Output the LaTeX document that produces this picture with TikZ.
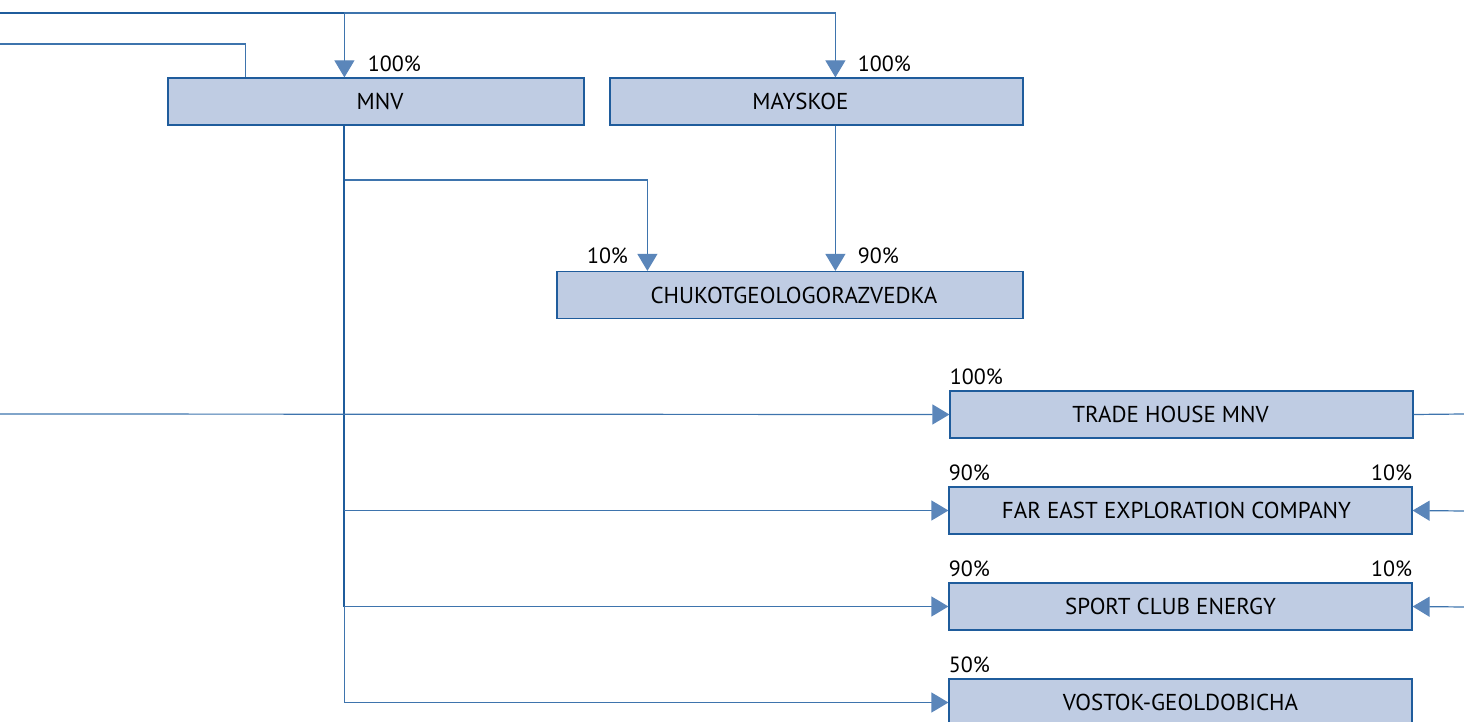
\documentclass[tikz,border=0pt]{standalone}
\usepackage{fontspec}
\setmainfont{PT Sans}
\usetikzlibrary{arrows.meta,calc}
\definecolor{boxfill}{HTML}{BFCCE3}
\definecolor{boxline}{HTML}{1F5C9C}
\definecolor{linkblue}{HTML}{3E74AD}
\definecolor{tipblue}{HTML}{5B86BA}

\begin{document}
\begin{tikzpicture}[x=0.5pt,y=-0.5pt,
    >={Triangle[width=10pt,length=8.5pt,color=tipblue]},
    box/.style={draw=boxline,fill=boxfill,line width=0.6pt,inner sep=0pt,
      minimum height=23.5pt,font=\fontsize{11.5}{13}\selectfont},
    pct/.style={inner sep=0pt,font=\fontsize{11}{13}\selectfont},
    link/.style={draw=linkblue,line width=0.6pt},
    trunk/.style={draw=boxline,line width=1pt}]

  \clip (0,0) rectangle (1464,722);

  % companies
  \node[box,minimum width=208pt] (mnv) at (376,101.5) {\hspace*{4pt}MNV};
  \node[box,minimum width=206.5pt] (may) at (816.5,101.5) {\hspace*{-16pt}MAYSKOE};
  \node[box,minimum width=233pt] (chu) at (790,295) {\hspace*{4pt}CHUKOTGEOLOGORAZVEDKA};
  \node[box,minimum width=231.5pt] (trade) at (1181.5,414.5) {\hspace*{-11pt}TRADE HOUSE MNV};
  \node[box,minimum width=231.5pt] (far) at (1180.5,510.5) {\hspace*{-4pt}FAR EAST EXPLORATION COMPANY};
  \node[box,minimum width=231.5pt] (sport) at (1180.5,606.5) {\hspace*{-10pt}SPORT CLUB ENERGY};
  \node[box,minimum width=231.5pt] (vost) at (1180.5,702.5) {VOSTOK-GEOLDOBICHA};

  % points on the boxes and loose ends
  \path (mnv.north west) ++(177,0) coordinate (mnvN);
  \path (mnv.south west) ++(177,0) coordinate (mnvS);
  \path (mnv.north west) ++(78,0) coordinate (mnvL);
  \path (may.north west) ++(226,0) coordinate (mayN);
  \path (may.south west) ++(226,0) coordinate (mayS);
  \path (chu.north west) ++(91,0) coordinate (chuA);
  \path (chu.north west) ++(279,0) coordinate (chuB);
  \coordinate (in1) at (0,13);
  \coordinate (in2) at (0,44);
  \coordinate (in3) at (0,414);
  \coordinate (out1) at (1464,414);
  \coordinate (in4) at (1464,511);
  \coordinate (in5) at (1464,607);
  \coordinate (fork) at (345,180);

  % ownership lines
  \draw[trunk] (in1) -- (mnvN |- in1);
  \draw[link,->] (mnvN |- in1) -| (mayN);
  \draw[link,->] (mnvN |- in1) -- (mnvN);
  \draw[link] (in2) -| (mnvL);
  \draw[trunk] (mnvS) -- (mnvS |- sport.west);
  \draw[link] (mnvS |- sport.west) -- (mnvS |- vost.west);
  \draw[link,->] (fork) -| (chuA);
  \draw[link,->] (mayS) -- (chuB);
  \draw[link,->] (in3) -- (trade.west);
  \draw[link] (trade.east) -- (out1);
  \draw[link,->] (mnvS |- far.west) -- (far.west);
  \draw[link,->] (in4) -- (far.east);
  \draw[link,->] (mnvS |- sport.west) -- (sport.west);
  \draw[link,->] (in5) -- (sport.east);
  \draw[link,->] (mnvS |- vost.west) -- (vost.west);

  % shares
  \node[pct,anchor=base west] (pmnv) at ($(mnvN)+(23,-6)$) {100\%};
  \node[pct,anchor=base west] (pmay) at ($(mayN)+(22,-6)$) {100\%};
  \node[pct,anchor=base east] (pchuA) at ($(chuA)+(-19,-7)$) {10\%};
  \node[pct,anchor=base west] (pchuB) at ($(chuB)+(22,-7)$) {90\%};
  \node[pct,anchor=base west] (ptrade) at ($(trade.north west)+(0,-6)$) {100\%};
  \node[pct,anchor=base west] (pfarL) at ($(far.north west)+(0,-6)$) {90\%};
  \node[pct,anchor=base east] (pfarR) at ($(far.north east)+(0,-6)$) {10\%};
  \node[pct,anchor=base west] (psportL) at ($(sport.north west)+(0,-6)$) {90\%};
  \node[pct,anchor=base east] (psportR) at ($(sport.north east)+(0,-6)$) {10\%};
  \node[pct,anchor=base west] (pvost) at ($(vost.north west)+(0,-6)$) {50\%};
\end{tikzpicture}
\end{document}
